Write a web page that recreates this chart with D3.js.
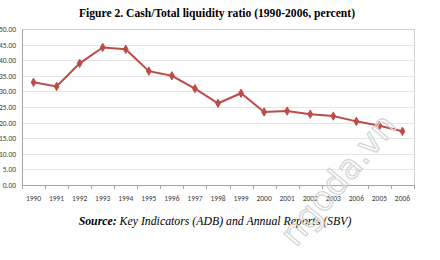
<!DOCTYPE html>
<html>
<head>
<meta charset="utf-8">
<script src="https://cdn.jsdelivr.net/npm/d3@7"></script>
<style>
  body { margin: 0; background: #fff; }
  svg { display: block; }
</style>
</head>
<body>
<svg id="chart" width="440" height="260"></svg>
<script>
// chart data
var years = ["1990", "1991", "1992", "1993", "1994", "1995", "1996", "1997", "1998",
             "1999", "2000", "2001", "2002", "2003", "2006", "2005", "2006"];
var ratio = [32.9, 31.6, 39.0, 44.1, 43.5, 36.5, 35.0, 30.9, 26.2,
             29.4, 23.4, 23.7, 22.7, 22.1, 20.4, 19.0, 17.2];
var yTicks = [0, 5, 10, 15, 20, 25, 30, 35, 40, 45, 50];

var svg = d3.select("#chart");
var margin = {left: 22, top: 29, right: 26, bottom: 75};
var W = 440, H = 260;
var plotW = W - margin.left - margin.right,
    plotH = H - margin.top - margin.bottom;

// title
svg.append("text")
    .attr("x", 217).attr("y", 17)
    .attr("text-anchor", "middle")
    .style("font-family", "'Liberation Serif', 'Times New Roman', serif")
    .style("font-weight", "bold")
    .style("font-size", "11.6px")
    .text("Figure 2. Cash/Total liquidity ratio (1990-2006, percent)");

var g = svg.append("g").attr("transform", "translate(" + margin.left + "," + margin.top + ")");

// x uses one band per year (indices, since a label repeats)
var x = d3.scaleBand().domain(d3.range(years.length)).range([0, plotW]);
var y = d3.scaleLinear().domain([0, 50]).range([plotH, 0]);

// gridlines
g.selectAll("line.grid").data(yTicks.slice(1))
  .enter().append("line")
    .attr("class", "grid")
    .attr("x1", 0).attr("x2", plotW)
    .attr("y1", d => Math.round(y(d)) + 0.5).attr("y2", d => Math.round(y(d)) + 0.5)
    .style("stroke", "#e6e6e6").style("stroke-width", 1);

// plot border (top + right)
g.append("line")
    .attr("x1", plotW + 0.5).attr("x2", plotW + 0.5)
    .attr("y1", 0).attr("y2", plotH)
    .style("stroke", "#d0d0d0");
g.append("line")
    .attr("x1", 0).attr("x2", plotW)
    .attr("y1", 0.5).attr("y2", 0.5)
    .style("stroke", "#d0d0d0");

// y axis
var yAxis = d3.axisLeft(y).tickValues(yTicks).tickSize(0).tickPadding(6)
    .tickFormat(d3.format(".2f"));
var yG = g.append("g").call(yAxis);
yG.select(".domain").style("stroke", "#a6a6a6");
yG.selectAll("text")
    .style("font-family", "Carlito, Calibri, 'Liberation Sans', sans-serif")
    .style("font-size", "7.5px")
    .style("fill", "#404040");

// x axis: ticks sit on the band edges
var xG = g.append("g").attr("transform", "translate(0," + plotH + ")");
xG.append("line")
    .attr("x1", 0).attr("x2", plotW).attr("y1", 0.5).attr("y2", 0.5)
    .style("stroke", "#a6a6a6");
xG.selectAll("line.tk").data(d3.range(years.length + 1))
  .enter().append("line")
    .attr("class", "tk")
    .attr("x1", i => Math.round(i * x.step()) + 0.5).attr("x2", i => Math.round(i * x.step()) + 0.5)
    .attr("y1", 0).attr("y2", 4)
    .style("stroke", "#a6a6a6");
xG.selectAll("text").data(years)
  .enter().append("text")
    .attr("x", (d, i) => x(i) + x.bandwidth() / 2)
    .attr("y", 16)
    .attr("text-anchor", "middle")
    .style("font-family", "Carlito, Calibri, 'Liberation Sans', sans-serif")
    .style("font-size", "7.5px")
    .style("fill", "#404040")
    .text(d => d);

// series line
var line = d3.line()
    .x((d, i) => x(i) + x.bandwidth() / 2)
    .y(d => y(d));
g.append("path").datum(ratio)
    .attr("d", line)
    .style("fill", "none")
    .style("stroke", "#be4b48")
    .style("stroke-width", 2);

// markers
var sym = d3.symbol().type(d3.symbolDiamond).size(20);
g.selectAll("path.mk").data(ratio)
  .enter().append("path")
    .attr("class", "mk")
    .attr("transform", (d, i) => "translate(" + (x(i) + x.bandwidth() / 2) + "," + y(d) + ")")
    .attr("d", sym)
    .style("fill", "#be4b48")
    .style("stroke", "#be4b48")
    .style("stroke-width", 1);

// source note
var src = svg.append("text")
    .attr("x", 215).attr("y", 225)
    .attr("text-anchor", "middle")
    .style("font-family", "'Liberation Serif', 'Times New Roman', serif")
    .style("font-style", "italic")
    .style("font-size", "11.8px");
src.append("tspan").style("font-weight", "bold").text("Source:");
src.append("tspan").text(" Key Indicators (ADB) and Annual Reports (SBV)");

// faint watermark
svg.append("text")
    .attr("transform", "translate(296,248) rotate(-50)")
    .style("font-family", "'DejaVu Sans', sans-serif")
    .style("font-size", "34px")
    .style("fill", "none")
    .style("stroke", "#d6d6d6")
    .style("stroke-width", 1.3)
    .text("ngoda.vn");
</script>
</body>
</html>
